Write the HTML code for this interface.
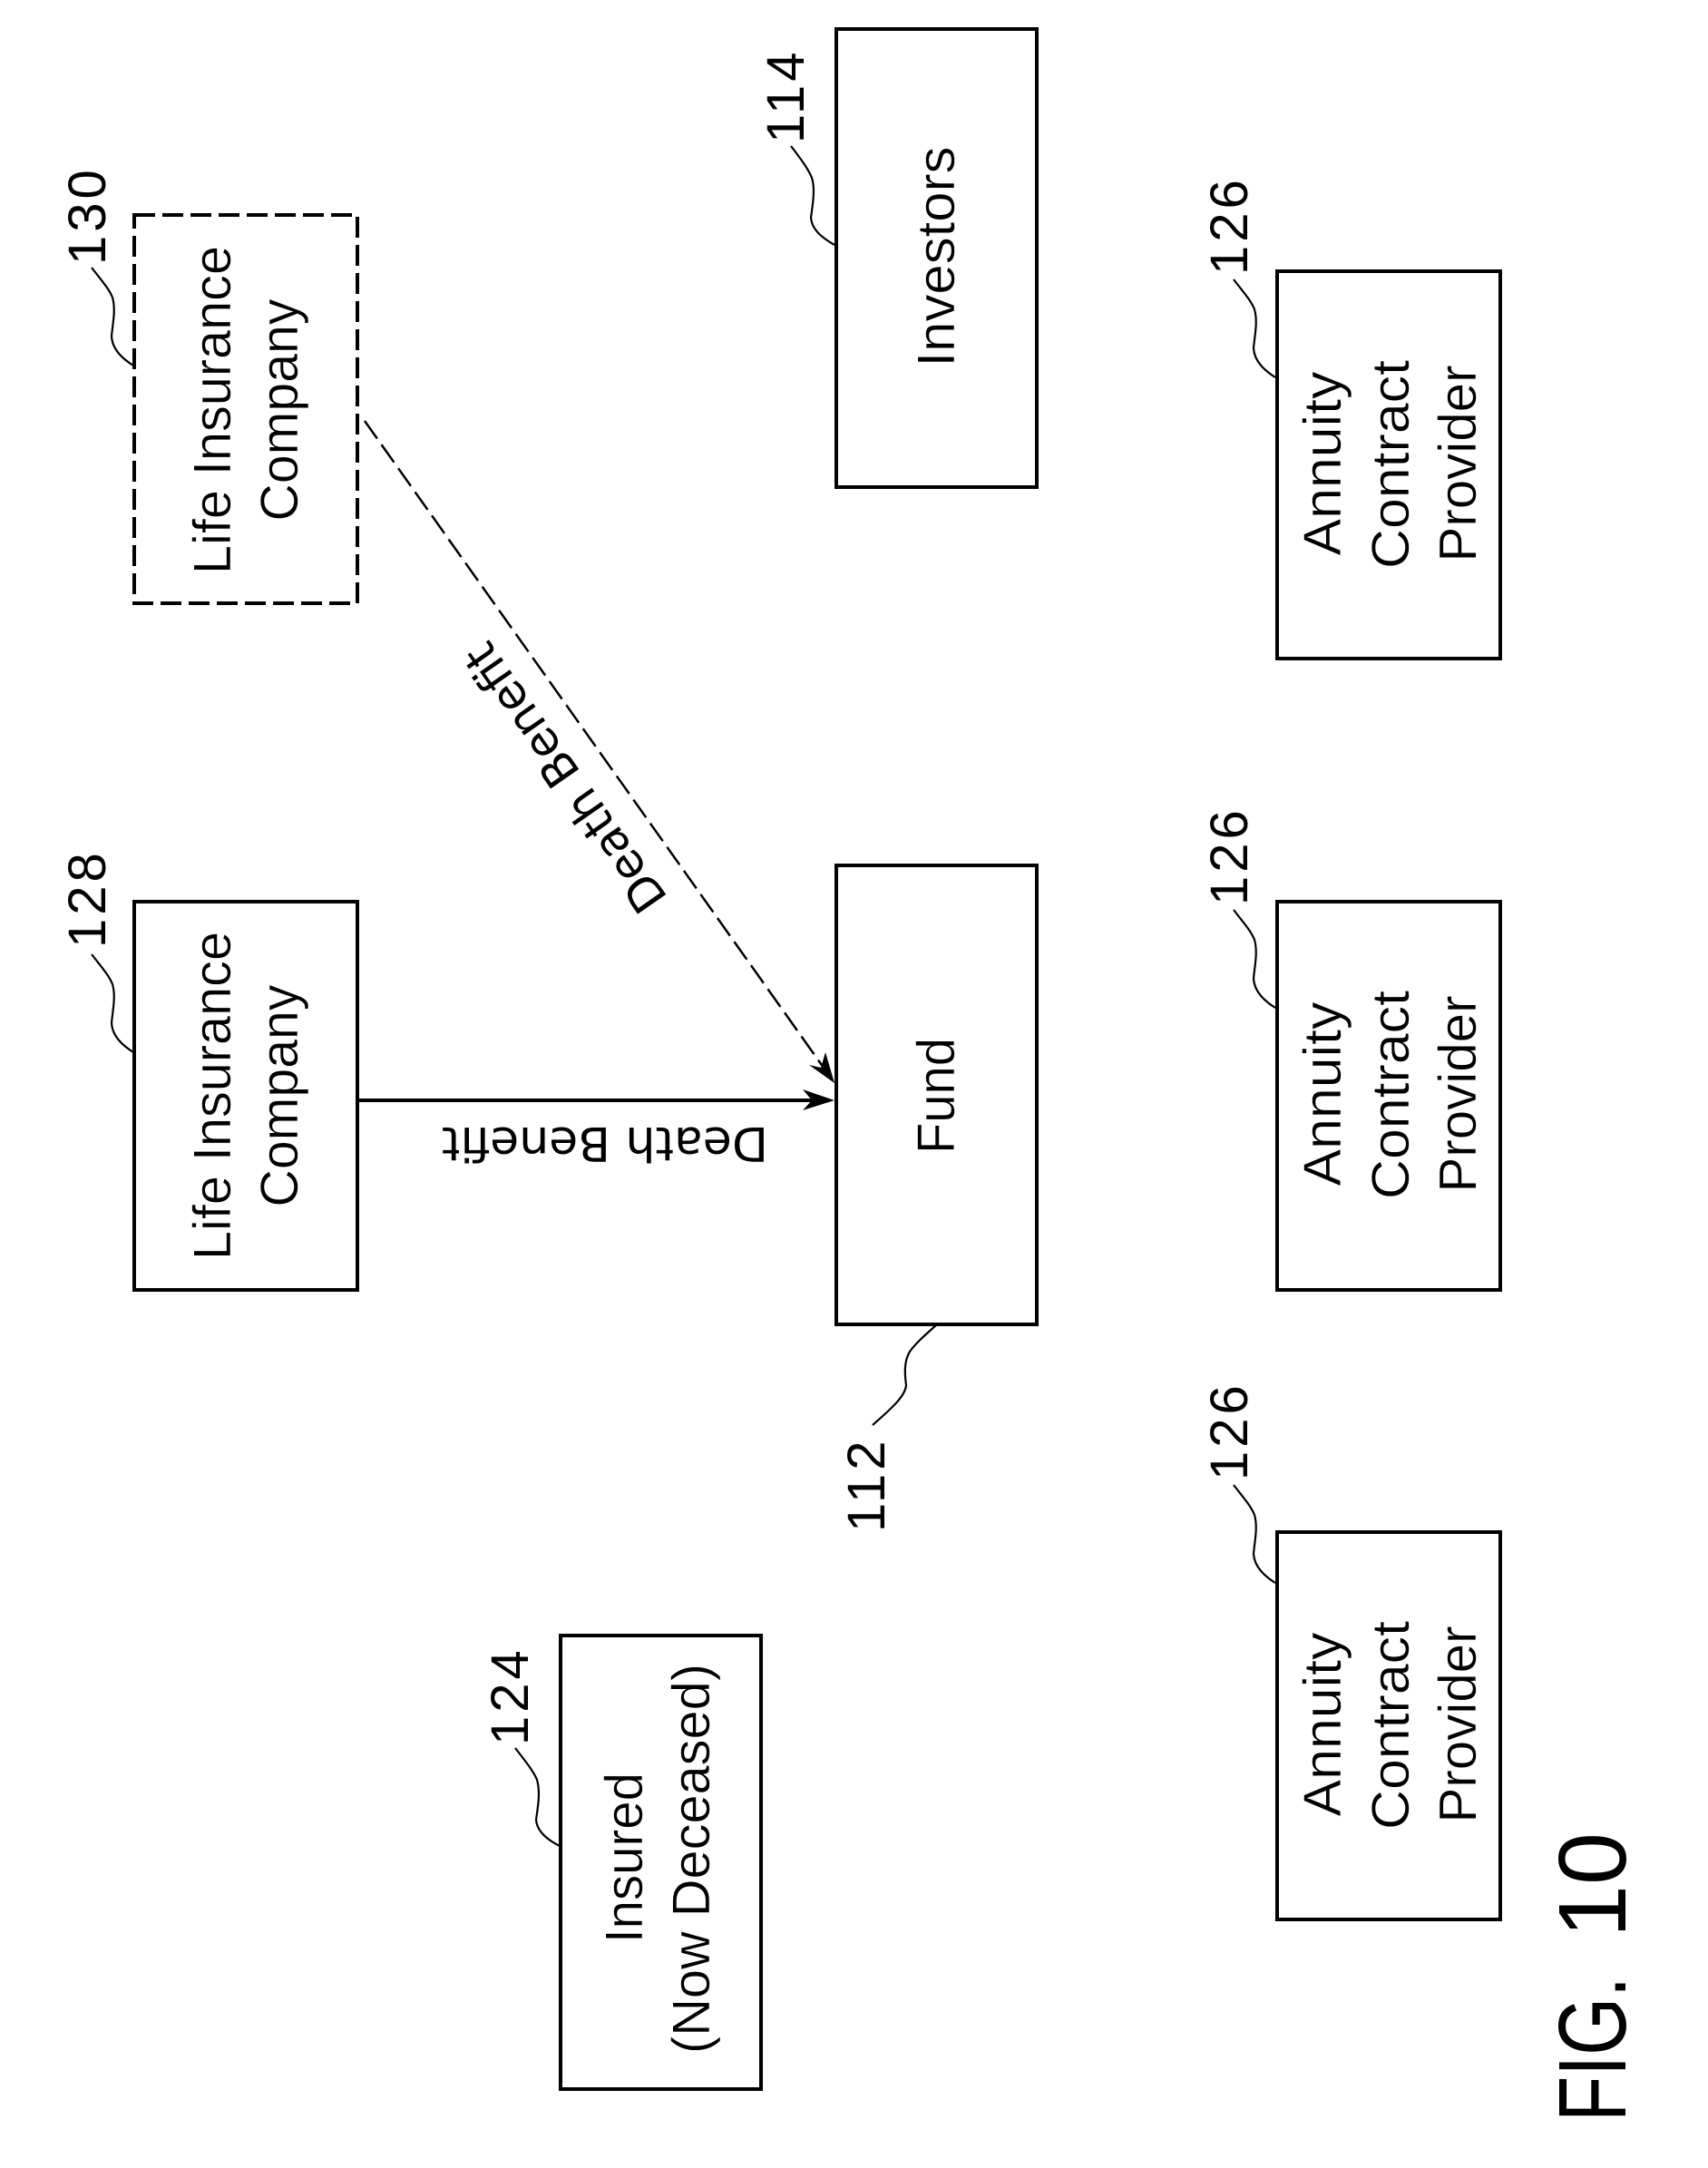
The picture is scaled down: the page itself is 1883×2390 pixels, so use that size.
<!DOCTYPE html>
<html>
<head>
<meta charset="utf-8">
<style>
html,body{margin:0;padding:0;background:#fff;width:1883px;height:2390px;overflow:hidden}
svg{display:block}
text{font-family:"Liberation Sans",sans-serif;fill:#000}
.t{font-size:58px;text-anchor:middle;stroke:#fff;stroke-width:.5px;paint-order:normal}
.n{font-size:58px;letter-spacing:4px}
.d{font-family:"DejaVu Sans",sans-serif;font-size:52px}
.b{fill:#fff;stroke:#000;stroke-width:4}
.l{fill:none;stroke:#000;stroke-width:2.2}
</style>
</head>
<body>
<svg width="1883" height="2390" viewBox="0 0 1883 2390" xmlns="http://www.w3.org/2000/svg">
<rect width="1883" height="2390" fill="#fff"/>

<!-- boxes -->
<rect class="b" x="922" y="32" width="221" height="505"/>
<rect class="b" x="148" y="237" width="246" height="428" stroke-dasharray="23 8"/>
<rect class="b" x="148" y="994" width="246" height="428"/>
<rect class="b" x="922" y="954" width="221" height="506"/>
<rect class="b" x="1408" y="299" width="246" height="427"/>
<rect class="b" x="1408" y="994" width="246" height="428"/>
<rect class="b" x="1408" y="1689" width="246" height="427"/>
<rect class="b" x="618" y="1803" width="221" height="500"/>

<!-- connectors -->
<line x1="394" y1="1213" x2="900" y2="1213" stroke="#000" stroke-width="4"/>
<polygon points="920,1213 885,1201 895,1213 885,1224" fill="#000"/>
<line x1="402" y1="464" x2="908" y2="1177" stroke="#000" stroke-width="2.5" stroke-dasharray="24 8"/>
<polygon points="920,1194 892,1174 905,1177 910,1160" fill="#000"/>

<!-- leaders -->
<path class="l" d="M872,161 C882,174 891,186 895,196 C899,208 896,225 894,240 C895,254 908,263 920,270"/>
<path class="l" d="M101,295 C111,308 120,318 124,328 C128,342 124,358 123,371 C124,386 136,396 147,403"/>
<path class="l" d="M101,1052 C111,1065 120,1075 124,1085 C128,1099 124,1115 123,1128 C124,1143 136,1153 147,1160"/>
<path class="l" d="M1033,1460 C1022,1470 1010,1480 1003,1490 C997,1500 997,1512 999,1527 C998,1540 980,1555 962,1571"/>
<path class="l" d="M1360,308 C1370,321 1379,331 1383,341 C1387,355 1383,371 1382,384 C1383,399 1395,409 1406,416"/>
<path class="l" d="M1360,1003 C1370,1016 1379,1026 1383,1036 C1387,1050 1383,1066 1382,1079 C1383,1094 1395,1104 1406,1111"/>
<path class="l" d="M1360,1637 C1370,1650 1379,1660 1383,1670 C1387,1684 1383,1700 1382,1713 C1383,1728 1395,1738 1406,1745"/>
<path class="l" d="M568,1927 C578,1940 588,1952 592,1962 C596,1976 593,1992 591,2006 C592,2020 605,2029 617,2035"/>

<!-- box text -->
<text class="t" transform="translate(254,452) rotate(-90)" textLength="362" lengthAdjust="spacingAndGlyphs">Life Insurance</text>
<text class="t" transform="translate(328,452) rotate(-90)" textLength="245" lengthAdjust="spacingAndGlyphs">Company</text>
<text class="t" transform="translate(254,1208) rotate(-90)" textLength="362" lengthAdjust="spacingAndGlyphs">Life Insurance</text>
<text class="t" transform="translate(328,1208) rotate(-90)" textLength="245" lengthAdjust="spacingAndGlyphs">Company</text>
<text class="t" transform="translate(1052,283) rotate(-90)" textLength="243" lengthAdjust="spacingAndGlyphs">Investors</text>
<text class="t" transform="translate(1052,1208) rotate(-90)" textLength="128" lengthAdjust="spacingAndGlyphs">Fund</text>

<text class="t" transform="translate(1478,511) rotate(-90)" textLength="203" lengthAdjust="spacingAndGlyphs">Annuity</text>
<text class="t" transform="translate(1553,512) rotate(-90)" textLength="230" lengthAdjust="spacingAndGlyphs">Contract</text>
<text class="t" transform="translate(1627,511) rotate(-90)" textLength="217" lengthAdjust="spacingAndGlyphs">Provider</text>

<text class="t" transform="translate(1478,1206) rotate(-90)" textLength="203" lengthAdjust="spacingAndGlyphs">Annuity</text>
<text class="t" transform="translate(1553,1207) rotate(-90)" textLength="230" lengthAdjust="spacingAndGlyphs">Contract</text>
<text class="t" transform="translate(1627,1206) rotate(-90)" textLength="217" lengthAdjust="spacingAndGlyphs">Provider</text>

<text class="t" transform="translate(1478,1901) rotate(-90)" textLength="203" lengthAdjust="spacingAndGlyphs">Annuity</text>
<text class="t" transform="translate(1553,1902) rotate(-90)" textLength="230" lengthAdjust="spacingAndGlyphs">Contract</text>
<text class="t" transform="translate(1627,1901) rotate(-90)" textLength="217" lengthAdjust="spacingAndGlyphs">Provider</text>

<text class="t" transform="translate(708,2048) rotate(-90)" textLength="188" lengthAdjust="spacingAndGlyphs">Insured</text>
<text class="t" transform="translate(782,2049) rotate(-90)" textLength="430" lengthAdjust="spacingAndGlyphs">(Now Deceased)</text>

<!-- reference numbers -->
<text class="n" transform="translate(116,292) rotate(-90)">130</text>
<text class="n" transform="translate(116,1045) rotate(-90)">128</text>
<text class="n" transform="translate(886,158) rotate(-90)">114</text>
<text class="n" transform="translate(1375,303) rotate(-90)">126</text>
<text class="n" transform="translate(1375,998) rotate(-90)">126</text>
<text class="n" transform="translate(1375,1632) rotate(-90)">126</text>
<text class="n" transform="translate(582,1924) rotate(-90)">124</text>
<text class="n" transform="translate(975,1689) rotate(-90)">112</text>

<!-- connector labels -->
<text class="d" transform="translate(847,1243) rotate(180)" textLength="360" lengthAdjust="spacingAndGlyphs">Death Benefit</text>
<text class="d" transform="translate(737,990) rotate(235.2)" textLength="348" lengthAdjust="spacingAndGlyphs">Death Benefit</text>

<!-- figure label -->
<text transform="translate(1792,2339) rotate(-90)" style="font-size:106px" textLength="160" lengthAdjust="spacingAndGlyphs">FIG.</text>
<text transform="translate(1792,2136) rotate(-90)" style="font-size:106px" textLength="116" lengthAdjust="spacingAndGlyphs">10</text>
</svg>
</body>
</html>
